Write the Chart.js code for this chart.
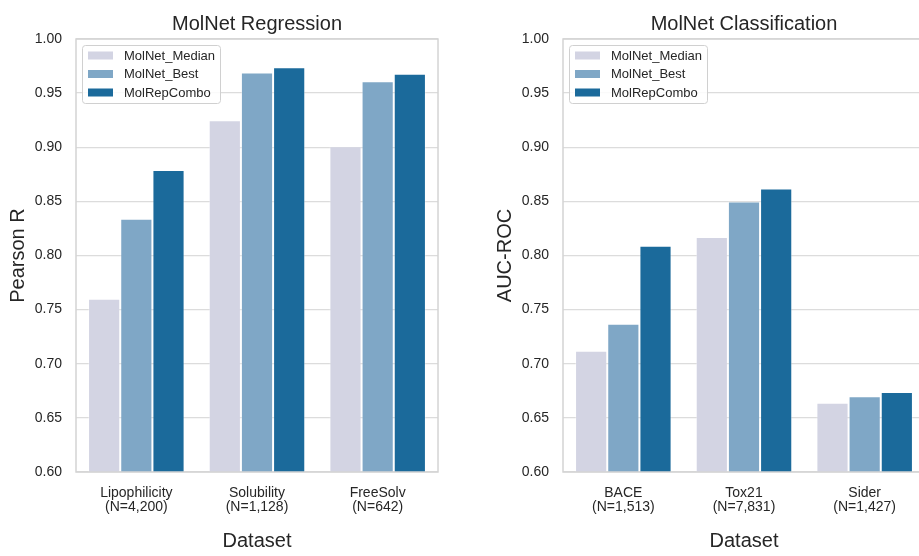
<!DOCTYPE html>
<html>
<head>
<meta charset="utf-8">
<script src="https://cdn.jsdelivr.net/npm/chart.js@4"></script>
<style>
  html, body { margin: 0; padding: 0; background: #fff; overflow: hidden; }
  body { width: 919px; height: 556px; position: relative; }
  .panel { position: absolute; top: 0; width: 460px; height: 556px; }
</style>
</head>
<body>
<div class="panel" style="left:0"><canvas id="regChart"></canvas></div>
<div class="panel" style="left:487px"><canvas id="clsChart"></canvas></div>
<script>
const seriesNames = ["MolNet_Median", "MolNet_Best", "MolRepCombo"];
const seriesColors = ["#d3d4e3", "#7fa7c6", "#1b6a9b"];

const regLabels = [["Lipophilicity", "(N=4,200)"], ["Solubility", "(N=1,128)"], ["FreeSolv", "(N=642)"]];
const regMedian = [0.760, 0.925, 0.901];
const regBest = [0.834, 0.969, 0.961];
const regCombo = [0.879, 0.974, 0.968];

const clsLabels = [["BACE", "(N=1,513)"], ["Tox21", "(N=7,831)"], ["Sider", "(N=1,427)"]];
const clsMedian = [0.712, 0.817, 0.664];
const clsBest = [0.737, 0.850, 0.670];
const clsCombo = [0.809, 0.862, 0.674];

const yTicks = [0.60, 0.65, 0.70, 0.75, 0.80, 0.85, 0.90, 0.95, 1.00];

const FONT = "'Liberation Sans', Arial, sans-serif";
const TEXT = "#262626";

// frame + title + legend drawn in the plot area, seaborn style
const panelDecor = {
  id: "panelDecor",
  afterDatasetsDraw(chart, args, opts) {
    const { ctx, chartArea: a } = chart;
    ctx.save();
    ctx.strokeStyle = "#d4d4d4";
    ctx.lineWidth = 1.5;
    ctx.strokeRect(a.left, a.top, a.right - a.left, a.bottom - a.top);

    ctx.fillStyle = TEXT;
    ctx.font = "20px " + FONT;
    ctx.textAlign = "center";
    ctx.textBaseline = "middle";
    ctx.fillText(opts.title, (a.left + a.right) / 2, 24);

    // legend
    const x0 = a.left + 6, y0 = a.top + 6, w = 138, h = 58;
    ctx.fillStyle = "rgba(255,255,255,0.85)";
    ctx.strokeStyle = "#d0d0d0";
    ctx.lineWidth = 1;
    ctx.beginPath();
    ctx.roundRect(x0 + 0.5, y0 + 0.5, w, h, 3);
    ctx.fill();
    ctx.stroke();
    ctx.font = "13px " + FONT;
    ctx.textAlign = "left";
    chart.data.datasets.forEach((ds, i) => {
      const cy = y0 + 10.5 + i * 18.5;
      ctx.fillStyle = ds.backgroundColor;
      ctx.fillRect(x0 + 6, cy - 4, 25, 8);
      ctx.fillStyle = TEXT;
      ctx.fillText(ds.label, x0 + 42, cy + 0.5);
    });
    ctx.restore();
  }
};

function makeChart(id, labels, vals, yTitle, title) {
  const datasets = vals.map((v, i) => ({
    label: seriesNames[i],
    data: v,
    backgroundColor: seriesColors[i],
    borderColor: "rgba(255,255,255,0.35)",
    borderWidth: 1,
    categoryPercentage: 0.8,
    barPercentage: 1.0
  }));
  return new Chart(document.getElementById(id), {
    type: "bar",
    data: { labels, datasets },
    plugins: [panelDecor],
    options: {
      responsive: true,
      maintainAspectRatio: false,
      animation: false,
      layout: { padding: { top: 39, right: 22, bottom: 0, left: 0 } },
      plugins: {
        legend: { display: false },
        tooltip: { enabled: false },
        panelDecor: { title }
      },
      scales: {
        x: {
          grid: { display: false, drawTicks: false },
          border: { display: false },
          afterFit: (s) => { s.height = 84; },
          ticks: {
            color: TEXT,
            padding: 14,
            font: { family: FONT, size: 14, lineHeight: 1.0 }
          },
          title: {
            display: true,
            text: "Dataset",
            color: TEXT,
            font: { family: FONT, size: 20, lineHeight: 1.2 },
            padding: { top: 0, bottom: 3 }
          }
        },
        y: {
          min: 0.6,
          max: 1.0,
          afterFit: (s) => { s.width = 76; },
          afterBuildTicks: (s) => { s.ticks = yTicks.map((v) => ({ value: v })); },
          grid: { color: "#dcdcdc", lineWidth: 1.3, drawTicks: false },
          border: { display: false },
          ticks: {
            color: TEXT,
            padding: 14,
            font: { family: FONT, size: 14 },
            callback: (v) => v.toFixed(2)
          },
          title: {
            display: true,
            text: yTitle,
            color: TEXT,
            font: { family: FONT, size: 20, lineHeight: 1.2 },
            padding: { top: 6, bottom: 0 }
          }
        }
      }
    }
  });
}

makeChart("regChart", regLabels, [regMedian, regBest, regCombo], "Pearson R", "MolNet Regression");
makeChart("clsChart", clsLabels, [clsMedian, clsBest, clsCombo], "AUC-ROC", "MolNet Classification");
</script>
</body>
</html>
